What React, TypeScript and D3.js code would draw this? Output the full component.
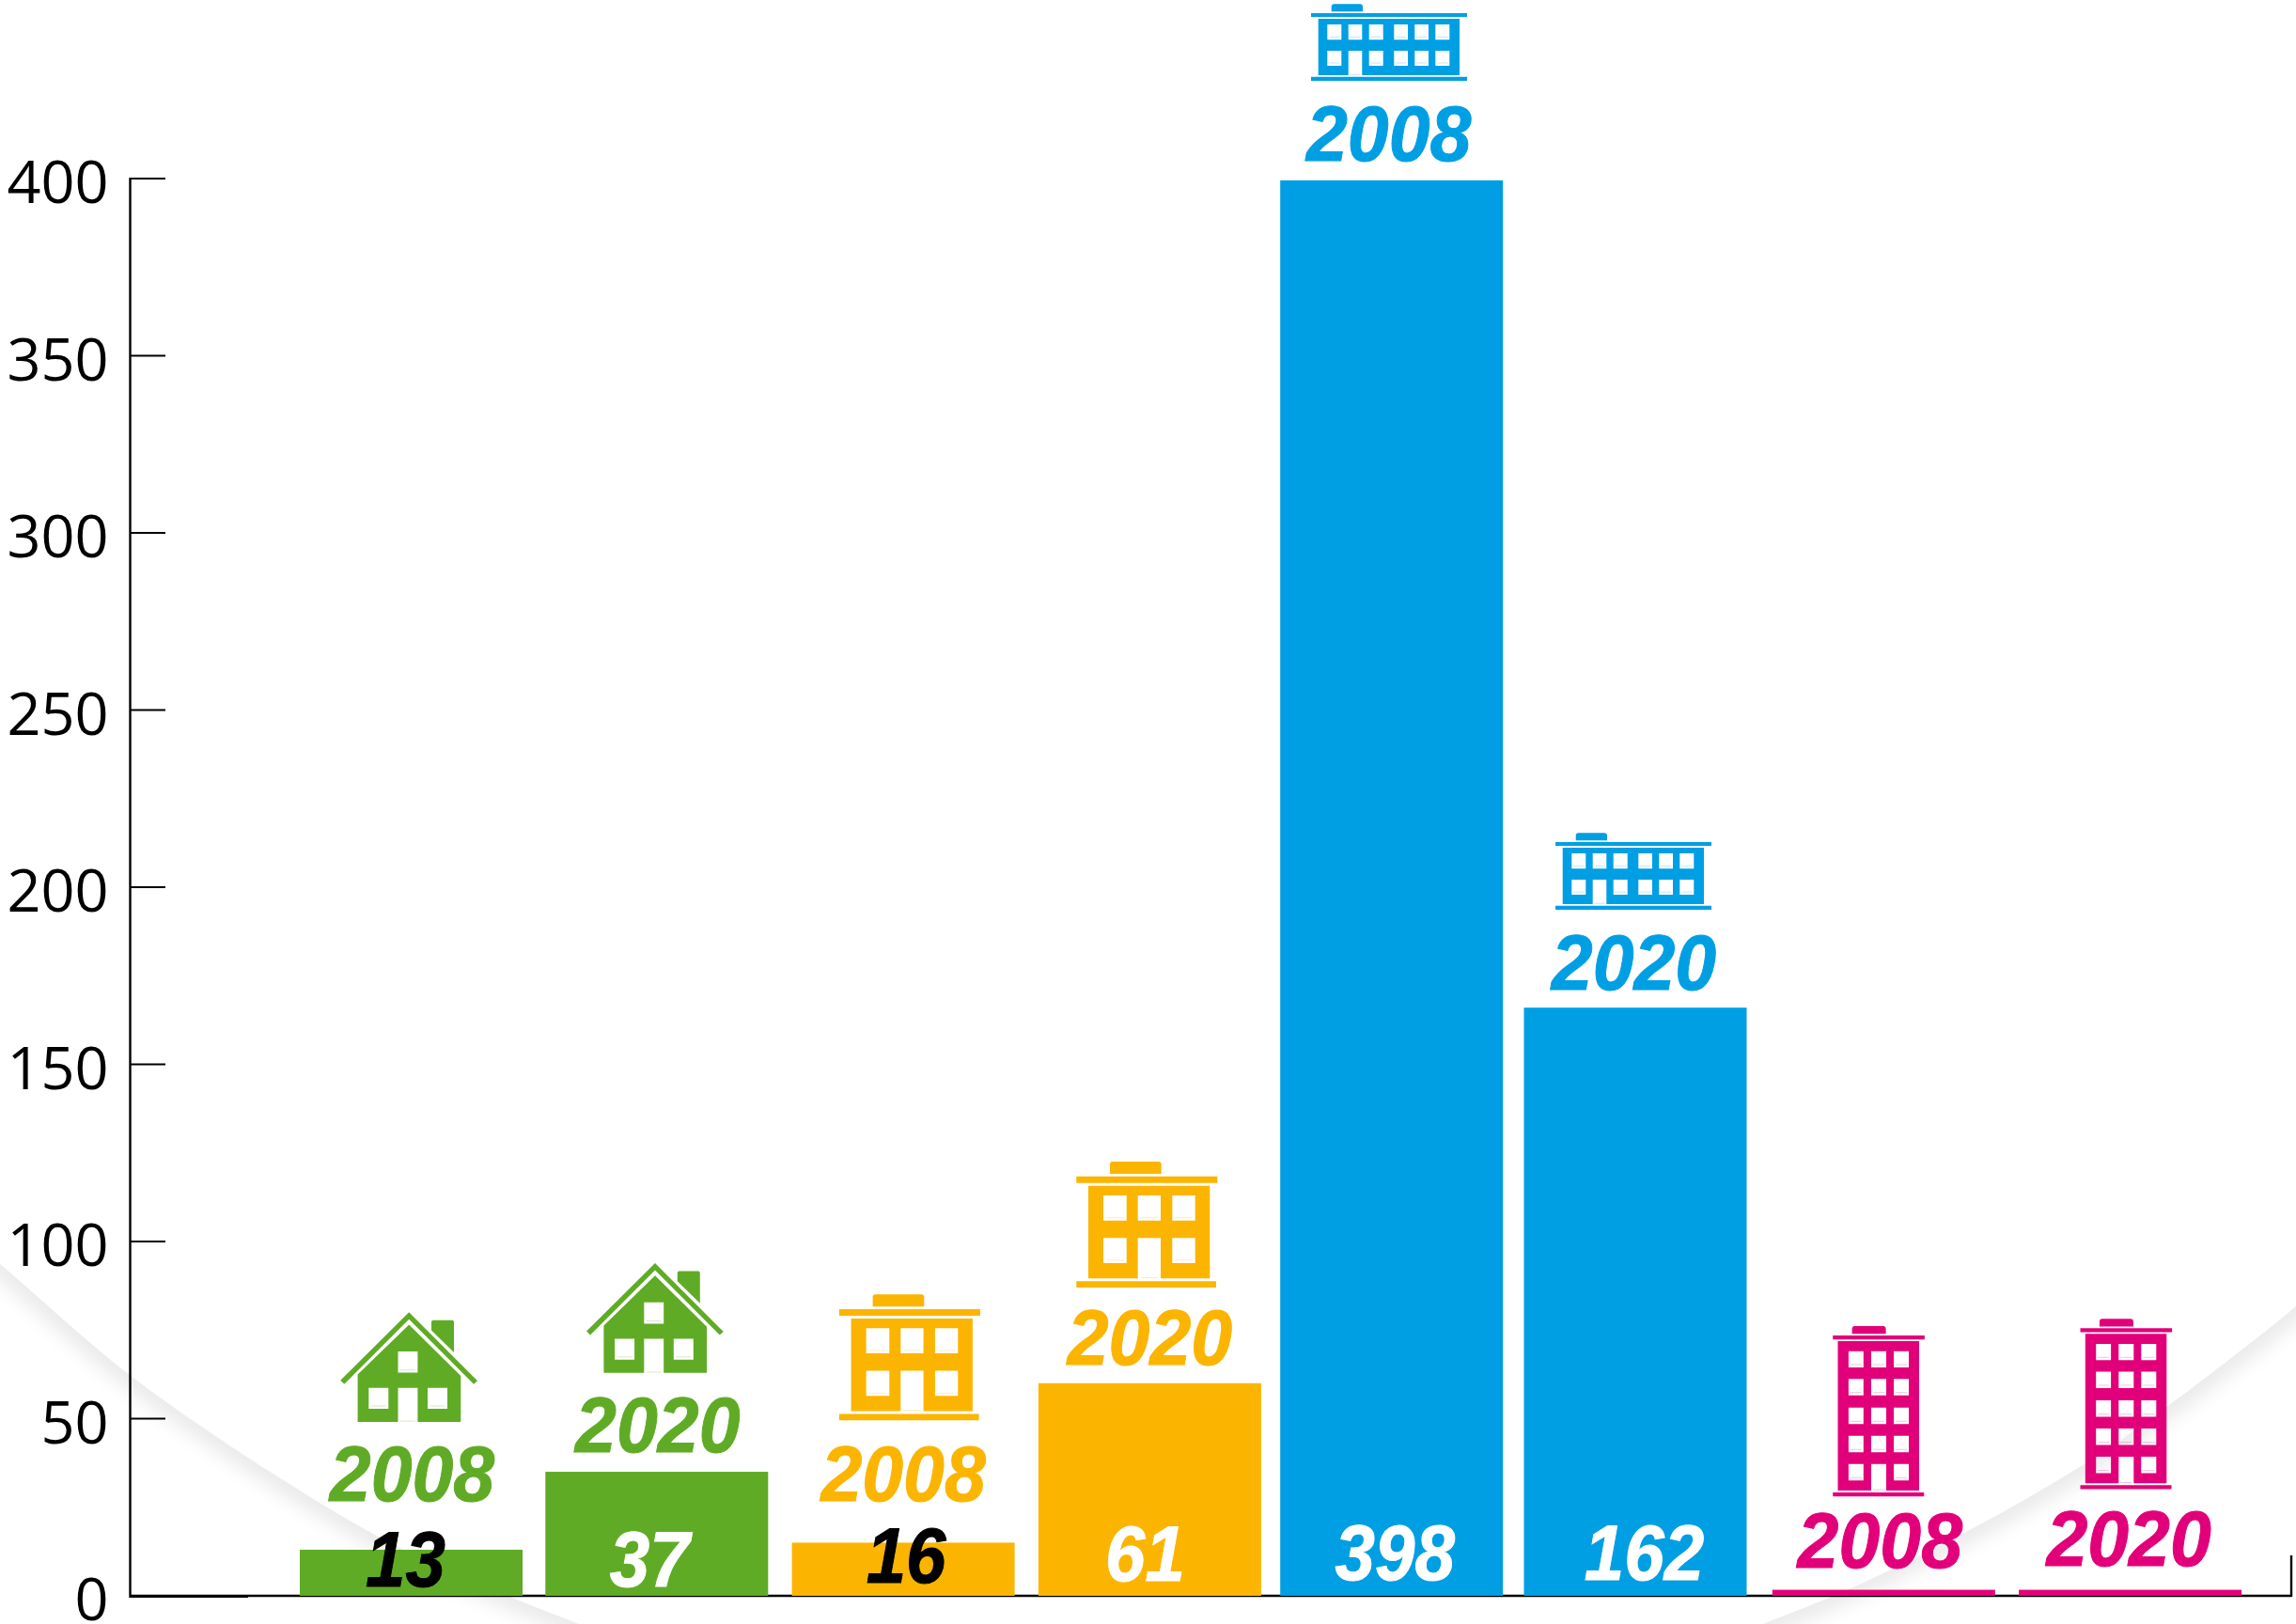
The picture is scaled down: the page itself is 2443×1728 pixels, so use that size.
import React from "react";
import * as d3 from "d3";

// ---- data ----
const categories = ["h08", "h20", "l08", "l20", "w08", "w20", "t08", "t20"];
const years = ["2008", "2020", "2008", "2020", "2008", "2020", "2008", "2020"];
const barValues = [13, 35, 15, 60, 399.5, 166, 1.7, 1.7];
const valueLabels = ["13", "37", "16", "61", "398", "162", "", ""];
const tickValues = [0, 50, 100, 150, 200, 250, 300, 350, 400];

// ---- layout ----
const W = 2443, H = 1728;
const green = "#60AB26", orange = "#FBB500", blue = "#009FE3", pink = "#E2007A";
const colors = [green, green, orange, orange, blue, blue, pink, pink];
const labelColors = ["#000", "#fff", "#000", "#fff", "#fff", "#fff", "#fff", "#fff"];
const barNudge = [0, 0, 1, 2, -2, -4, -1, 0];
const yearDx = [1, 1, 0, 0, -3, -1.5, -4, -1.5];
const yearBase = [1597, 1545, 1597, 1452, 171, 1053, 1667.5, 1666];
const valueDx = [-6, -7.5, 3, -5, 3.5, 9.5, 0, 0];
const valueBase = [1688, 1688, 1684, 1682, 1681, 1681, 0, 0];

const y = d3.scaleLinear().domain([0, 400]).range([1698, 190]);
const x = d3.scaleBand<string>().domain(categories).range([319, 319 + 261.3 * 8]).paddingInner(0).paddingOuter(0);
const barW = 237;

const rect = (x0: number, y0: number, x1: number, y1: number) => `M${x0},${y0}H${x1}V${y1}H${x0}Z`;
const cap = (x0: number, y0: number, x1: number, y1: number, r: number) =>
  `M${x0},${y1}V${y0 + r}Q${x0},${y0} ${x0 + r},${y0}H${x1 - r}Q${x1},${y0} ${x1},${y0 + r}V${y1}Z`;
const sill = (x0: number, x1: number, y1: number, h: number) => `M${x0 + (x1 - x0) * 0.12},${y1 - h}H${x1 - (x1 - x0) * 0.12}`;

type B = { bar: number[]; bar2: number[]; cap: number[]; body: number[]; wx: number[][]; wy: number[][]; door: number[]; doorBottom: number };
const buildingPath = (b: B) => {
  let d = rect(b.bar[0], b.bar[1], b.bar[2], b.bar[3]) + rect(b.bar2[0], b.bar2[1], b.bar2[2], b.bar2[3]);
  d += cap(b.cap[0], b.cap[1], b.cap[2], b.cap[3], 3);
  d += rect(b.body[0], b.body[1], b.body[2], b.body[3]);
  b.wy.forEach((wy, r) => b.wx.forEach((wx, c) => {
    if (r === b.door[0] && c === b.door[1]) d += rect(wx[0], wy[0], wx[1], b.doorBottom);
    else d += rect(wx[0], wy[0], wx[1], wy[1]);
  }));
  return d;
};
const buildingSills = (b: B) => {
  let d = "";
  b.wy.forEach((wy, r) => b.wx.forEach((wx, c) => {
    if (r === b.door[0] && c === b.door[1]) d += sill(wx[0], wx[1], b.doorBottom, 0.8);
    else d += sill(wx[0], wx[1], wy[1], 3);
  }));
  return d;
};

const wideB: B = {
  bar: [1395, 14, 1561, 18], bar2: [1395, 81.7, 1561, 86], cap: [1416.7, 4.3, 1450, 12.3], body: [1402.7, 20, 1553, 80],
  wx: [[1412.3, 1427.3], [1434.7, 1449.3], [1456.7, 1471.7], [1483.3, 1498], [1505.3, 1520], [1527.3, 1542.3]],
  wy: [[26, 42.3], [54, 70]], door: [1, 1], doorBottom: 80,
};
const midB: B = {
  bar: [1145.3, 1251.7, 1295.3, 1258.7], bar2: [1145.3, 1363.3, 1294, 1370], cap: [1181, 1236, 1235.7, 1249], body: [1158, 1261.7, 1287.3, 1360.3],
  wx: [[1174, 1198.7], [1210.7, 1235], [1247.3, 1271.7]],
  wy: [[1272, 1298.7], [1317.3, 1344]], door: [1, 1], doorBottom: 1360.3,
};
const tallB: B = {
  bar: [1950.2, 1421, 2047.8, 1425.3], bar2: [1950.2, 1588, 2047.2, 1592.3], cap: [1970.6, 1411, 2006.6, 1419.3], body: [1955.5, 1427, 2042, 1586],
  wx: [[1966.9, 1982.8], [1991, 2007], [2015, 2031]],
  wy: [[1437.7, 1455], [1467.3, 1484.7], [1497.7, 1515.3], [1527.7, 1545.3], [1557.7, 1575.3]], door: [4, 1], doorBottom: 1586,
};
const housePath =
  "M435.2,1396.3L508,1469.3L504,1472.7L435.2,1403.7L366.3,1472.7L362.2,1468.7Z" +
  "M435.2,1409.4L490.3,1464V1513H380.6V1462.6Z" +
  "M459,1415.5V1407Q459,1404.7 461,1404.7H481Q483,1404.7 483,1407V1439Z" +
  rect(423.5, 1438, 444.4, 1460.6) + rect(392.3, 1476.8, 413.3, 1499) + rect(423.5, 1476.8, 444.4, 1513) + rect(455, 1476.8, 476, 1499);
const houseSills = sill(423.5, 444.4, 1460.6, 3) + sill(392.3, 413.3, 1499, 3) + sill(455, 476, 1499, 3) + sill(423.5, 444.4, 1513, 0.8);

const iconPaths = [housePath, housePath, buildingPath(midB), buildingPath(midB), buildingPath(wideB), buildingPath(wideB), buildingPath(tallB), buildingPath(tallB)];
const sillPaths = [houseSills, houseSills, buildingSills(midB), buildingSills(midB), buildingSills(wideB), buildingSills(wideB), buildingSills(tallB), buildingSills(tallB)];
const iconDx = [0, 261.8, -252.4, 0, 0, 260, 0, 263.3];
const iconDy = [0, -52.2, 141.3, 0, 0, 882, 0, -7.7];

// soft page-curl shadows behind the chart
const leftCurve: [number, number][] = [[-30, 1322], [0, 1345], [138, 1463], [300, 1574], [427, 1648], [545, 1700], [616, 1728], [680, 1755]];
const rightCurve: [number, number][] = [[2470, 1365], [2443, 1390], [2304, 1498], [2219, 1557], [2092, 1630], [1965, 1692], [1876, 1728], [1800, 1760]];
const curveLine = d3.line().curve(d3.curveCatmullRom);
const leftD = curveLine(leftCurve) as string;
const rightD = curveLine(rightCurve) as string;

const yearFont = { fontFamily: "Liberation Sans", fontWeight: 700, fontStyle: "italic", fontSize: 83 } as const;

export default function App() {
  return (
    <svg width={W} height={H} viewBox={`0 0 ${W} ${H}`} style={{ position: "absolute", left: 0, top: 0, display: "block", background: "#fff" }}>
      <defs>
        <filter id="soft" x="-10%" y="-10%" width="120%" height="120%"><feGaussianBlur stdDeviation="10" /></filter>
        <clipPath id="clipL"><path d={leftD + "L-30,1760Z"} /></clipPath>
        <clipPath id="clipR"><path d={rightD + "L2470,1760Z"} /></clipPath>
      </defs>
      <g clipPath="url(#clipL)"><path d={leftD} fill="none" stroke="#e8e8e8" strokeWidth={24} filter="url(#soft)" /></g>
      <g clipPath="url(#clipR)"><path d={rightD} fill="none" stroke="#e8e8e8" strokeWidth={24} filter="url(#soft)" /></g>

      {/* axes */}
      <g stroke="#000" fill="none">
        <line x1={138.5} x2={138.5} y1={y(400) - 1} y2={y(0) + 2} strokeWidth={2.4} />
        <line x1={138} x2={2438} y1={y(0)} y2={y(0)} strokeWidth={2.4} />
        <line x1={138} x2={264} y1={y(0) + 0.5} y2={y(0) + 0.5} strokeWidth={3} />
        <line x1={2438} x2={2438} y1={y(0) + 1} y2={1655} strokeWidth={2.4} />
        {tickValues.filter((t) => t > 0).map((t) => <line key={t} x1={138} x2={176} y1={y(t)} y2={y(t)} strokeWidth={2.2} />)}
      </g>
      {tickValues.map((t) => (
        <text key={t} x={115.5} y={y(t) + 26} textAnchor="end" fontFamily="Open Sans" fontSize={63} fill="#000">{t}</text>
      ))}

      {/* bars */}
      {categories.map((c, i) => (
        <rect key={c} x={(x(c) as number) + barNudge[i]} width={barW} y={y(barValues[i])} height={y(0) - y(barValues[i])} fill={colors[i]} />
      ))}

      {/* icons */}
      {categories.map((c, i) => (
        <g key={c} transform={`translate(${iconDx[i]},${iconDy[i]})`}>
          <path d={iconPaths[i]} fill={colors[i]} fillRule="evenodd" />
          <path d={sillPaths[i]} fill="none" stroke={colors[i]} strokeOpacity={0.25} strokeWidth={1} />
        </g>
      ))}

      {/* year labels */}
      {categories.map((c, i) => {
        const cx = (x(c) as number) + barNudge[i] + barW / 2 + yearDx[i];
        return (
          <text key={c} transform={`translate(${cx},${yearBase[i]}) scale(0.95,1)`} textAnchor="middle" fill={colors[i]} stroke={colors[i]} strokeWidth={1} {...yearFont}>{years[i]}</text>
        );
      })}

      {/* value labels */}
      {categories.map((c, i) => {
        if (!valueLabels[i]) return null;
        const cx = (x(c) as number) + barNudge[i] + barW / 2 + valueDx[i];
        return (
          <text key={c} transform={`translate(${cx},${valueBase[i]}) scale(0.92,1)`} textAnchor="middle" fill={labelColors[i]} stroke={labelColors[i]} strokeWidth={1} {...yearFont}>{valueLabels[i]}</text>
        );
      })}
    </svg>
  );
}
